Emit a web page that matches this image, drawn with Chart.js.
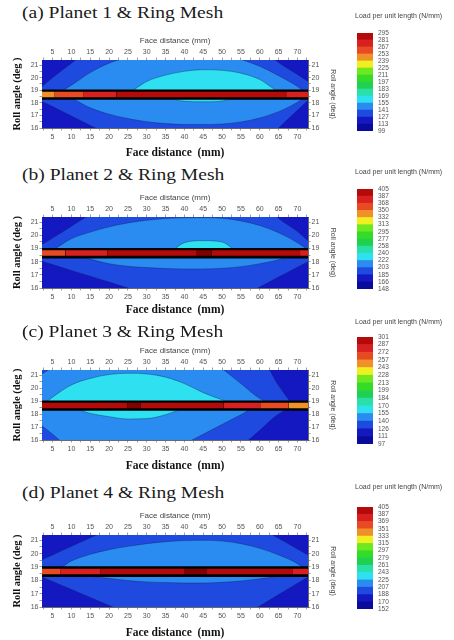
<!DOCTYPE html>
<html>
<head>
<meta charset="utf-8">
<script src="https://cdn.jsdelivr.net/npm/chart.js@4.4.0/dist/chart.umd.min.js"></script>
<style>
    body { margin: 0; width: 454px; height: 640px; background: #fff; position: relative; overflow: hidden; }
    canvas { position: absolute; }
    .panel-title {
        position: absolute; left: 22px; line-height: 20px; white-space: nowrap;
        font-family: "Liberation Serif", "Times New Roman", serif; font-size: 16px; color: #1a1a1a;
        transform: scaleX(1.22); transform-origin: left center;
    }
    .bar-title {
        position: absolute; left: 355px; line-height: 10px; white-space: nowrap;
        font-family: Arial, "Liberation Sans", sans-serif; font-size: 7px; color: #444;
        will-change: transform;
    }
</style>
</head>
<body>
<script>
// Axes
const faceX = [2.2, 5, 10, 15, 20, 25, 30, 35, 40, 45, 50, 55, 60, 65, 70, 72.8];
const faceTicks = [5, 10, 15, 20, 25, 30, 35, 40, 45, 50, 55, 60, 65, 70];
const rollTicks = [16, 17, 18, 19, 20, 21];
const faceRange = [2.2, 72.8];
const rollRange = [16, 21.4];

const panelTitles = ['(a) Planet 1 & Ring Mesh', '(b) Planet 2 & Ring Mesh',
                     '(c) Planet 3 & Ring Mesh', '(d) Planet 4 & Ring Mesh'];

// Colour bar levels (N/mm)
const levelsA = [99, 113, 127, 141, 155, 169, 183, 197, 211, 225, 239, 253, 267, 281, 295];
const levelsB = [148, 166, 185, 203, 222, 240, 258, 277, 295, 313, 332, 350, 368, 387, 405];
const levelsC = [97, 111, 126, 140, 155, 170, 184, 199, 213, 228, 243, 257, 272, 287, 301];
const levelsD = [152, 170, 188, 207, 225, 243, 261, 279, 297, 315, 333, 351, 369, 387, 405];

// Contact line (deg): black band and loaded core
const contactBand = [18.25, 19.05];
const contactCore = [18.45, 18.87];
const contactMid = 18.65;

// Panel (a): background load, contour region loads and their edges (deg at faceX)
const baseA = 120;
const regionLoadA = [134, 148, 162];
const upperA = [
    [19.3, 20.0, 21.15, 22.2, 22.8, 23, 23, 23, 23, 23, 23, 23, 22.4, 21.2, 20.25, 19.7],
    [18.65, 18.65, 19.4, 20.4, 21.15, 21.6, 21.85, 21.95, 22, 22, 21.9, 21.45, 20.9, 20.15, 19.3, 18.65],
    [18.65, 18.65, 18.65, 18.65, 18.65, 18.8, 19.7, 20.2, 20.5, 20.63, 20.58, 20.35, 19.85, 18.9, 18.65, 18.65]
];
const lowerA = [
    [18.1, 17.7, 16.95, 16.2, 15.5, 15, 14.5, 14.5, 14.5, 14.5, 14.5, 14.5, 14.6, 16.0, 17.4, 18.2],
    [18.65, 18.65, 18.35, 17.6, 17.1, 16.75, 16.5, 16.35, 16.28, 16.28, 16.32, 16.48, 16.8, 17.3, 18.05, 18.65],
    [18.65, 18.65, 18.65, 18.65, 18.65, 18.65, 18.65, 18.45, 18.12, 18.08, 18.14, 18.5, 18.65, 18.65, 18.65, 18.65]
];
const stripEdgesA = [2.2, 5.6, 13.1, 22, 67, 72.8];
const stripLoadA = [246, 260, 274, 288, 274];

// Panel (b)
const baseB = 175;
const regionLoadB = [194, 212, 231];
const upperB = [
    [19.3, 19.8, 20.7, 21.6, 22.4, 23, 23, 23, 23, 23, 23, 23, 22.8, 21.3, 20.3, 19.6],
    [18.65, 18.9, 19.75, 20.25, 20.65, 20.95, 21.15, 21.28, 21.34, 21.35, 21.3, 21.1, 20.75, 20.2, 19.45, 18.9],
    [18.65, 18.65, 18.65, 18.65, 18.65, 18.65, 18.65, 18.65, 19.45, 19.6, 19.5, 18.65, 18.65, 18.65, 18.65, 18.65]
];
const lowerB = [
    [18.03, 17.78, 17.33, 16.89, 16.45, 16.0, 15.5, 15, 15, 15, 15, 15.3, 16.07, 16.83, 17.58, 18.0],
    [18.65, 18.65, 18.65, 18.2, 17.85, 17.65, 17.55, 17.48, 17.45, 17.45, 17.5, 17.62, 17.85, 18.15, 18.65, 18.65],
    null
];
const stripEdgesB = [2.2, 8.4, 19.5, 43.3, 47.2, 70.7, 72.8];
const stripLoadB = [358, 378, 396, 410, 396, 378];

// Panel (c)
const baseC = 118;
const regionLoadC = [133, 147, 162];
const upperC = [
    [23, 23, 23, 23, 23, 23, 23, 23, 23, 23, 23, 23, 22.6, 20.2, 18.65, 18.65],
    [21.1, 21.6, 22.4, 22.8, 23, 23, 23, 23, 23, 22.5, 21.5, 20.35, 19.2, 18.65, 18.65, 18.65],
    [18.65, 19.3, 20.25, 20.75, 21.05, 21.15, 21.1, 20.85, 20.35, 19.65, 19.1, 18.65, 18.65, 18.65, 18.65, 18.65]
];
const lowerC = [
    [14.5, 14.5, 14.5, 14.5, 14.5, 14.5, 14.5, 14.5, 14.5, 14.5, 14.5, 15.5, 16.75, 18.0, 18.65, 18.65],
    [17.1, 16.45, 15.3, 15, 15, 15, 15, 15, 15.7, 16.45, 17.2, 17.95, 18.65, 18.65, 18.65, 18.65],
    [18.65, 18.65, 18.5, 18.05, 17.8, 17.62, 17.65, 17.95, 18.45, 18.65, 18.65, 18.65, 18.65, 18.65, 18.65, 18.65]
];
const stripEdgesC = [2.2, 24.8, 28.3, 50.4, 60.1, 67.6, 72.8];
const stripLoadC = [292, 305, 292, 279, 264, 250];

// Panel (d)
const baseD = 179;
const regionLoadD = [197, 216];
const upperD = [
    [19.55, 19.9, 20.55, 21.2, 21.8, 22.4, 23, 23, 23, 23, 23, 22.6, 21.95, 21.15, 20.35, 19.9],
    [18.65, 18.65, 19.45, 19.95, 20.3, 20.55, 20.75, 20.9, 20.98, 21.0, 20.95, 20.75, 20.4, 19.9, 19.25, 18.65]
];
const lowerD = [
    [18.25, 17.92, 17.32, 16.72, 16.12, 15.5, 15, 15, 15, 15, 15, 15.3, 16.08, 16.93, 17.78, 18.25],
    [18.65, 18.65, 18.65, 18.3, 18.15, 17.98, 17.88, 17.83, 17.8, 17.8, 17.85, 17.95, 18.12, 18.3, 18.65, 18.65]
];
const stripEdgesD = [2.2, 7, 17.8, 40.1, 46, 68.8, 72.8];
const stripLoadD = [360, 378, 396, 410, 396, 378];

// Colour map, bottom band to top band
const colormap = ['#0a0a9c', '#1418c0', '#1e4ae0', '#2a8cf0', '#2ee0f0', '#28e0a8', '#20d050',
                  '#34dc28', '#70e820', '#f0f020', '#f09028', '#e84a24', '#d82020', '#b40a0a'];
const overColor = '#820000';
const contourLine = 'rgba(15, 25, 70, 0.5)';

// Page layout (px)
const plotTop = [60, 217, 370, 535];
const plotHeight = [68, 71, 70, 72];
const titleY = [13, 175, 332, 493];
const barTop = [29, 185, 333, 503];
const barHeight = [106, 108, 115, 110];
const barTitleY = [16, 172, 322, 487];
const xTitleGap = [25, 22, 26, 26];

const panels = [
    { levels: levelsA, base: baseA, loads: regionLoadA, upper: upperA, lower: lowerA, edges: stripEdgesA, strip: stripLoadA },
    { levels: levelsB, base: baseB, loads: regionLoadB, upper: upperB, lower: lowerB, edges: stripEdgesB, strip: stripLoadB },
    { levels: levelsC, base: baseC, loads: regionLoadC, upper: upperC, lower: lowerC, edges: stripEdgesC, strip: stripLoadC },
    { levels: levelsD, base: baseD, loads: regionLoadD, upper: upperD, lower: lowerD, edges: stripEdgesD, strip: stripLoadD }
];

const sans = 'Arial, "Liberation Sans", sans-serif';
const serif = '"Liberation Serif", "Times New Roman", serif';

function loadColor(levels, v) {
    if (v >= levels[levels.length - 1]) return overColor;
    let band = 0;
    levels.forEach((l, i) => { if (v >= l) band = i; });
    return colormap[Math.min(band, colormap.length - 1)];
}

function addCanvas(left, top, w, h) {
    const c = document.createElement('canvas');
    c.width = w;
    c.height = h;
    c.style.cssText = `left:${left}px;top:${top}px;width:${w}px;height:${h}px`;
    document.body.appendChild(c);
    return c;
}

function addText(cls, text, centerY) {
    const d = document.createElement('div');
    d.className = cls;
    d.textContent = text;
    d.style.top = (centerY - (cls === 'panel-title' ? 10 : 5)) + 'px';
    document.body.appendChild(d);
}

// major ticks plus an unlabelled tick half way between them
function tickList(majors, half, range) {
    const out = [];
    majors.forEach((v, i) => {
        if (i === 0 && v - half >= range[0]) out.push(v - half);
        if (i > 0) out.push(v - half);
        out.push(v);
    });
    const last = majors[majors.length - 1] + half;
    if (last <= range[1]) out.push(last);
    return out;
}

function axis(position, range, majors, half, size, title) {
    const vertical = position === 'left' || position === 'right';
    return {
        type: 'linear',
        position,
        min: range[0],
        max: range[1],
        afterBuildTicks: s => { s.ticks = tickList(majors, half, range).map(v => ({ value: v })); },
        afterFit: s => { if (vertical) s.width = size; else s.height = size; },
        ticks: {
            autoSkip: false, maxRotation: 0, padding: position === 'bottom' ? 2.5 : 1,
            font: { family: sans, size: 7 }, color: '#555',
            callback: v => majors.includes(v) ? String(v) : ''
        },
        grid: { drawOnChartArea: false, tickLength: 2.5, color: '#777', lineWidth: 0.7 },
        border: { color: '#444', width: 0.8 },
        title
    };
}

function line(points, color, fill, border) {
    return {
        data: points,
        backgroundColor: color,
        borderColor: border ? contourLine : 'rgba(0,0,0,0)',
        borderWidth: border ? 0.7 : 0,
        fill,
        pointRadius: 0,
        cubicInterpolationMode: 'monotone'
    };
}

const edge = ys => faceX.map((x, i) => ({ x, y: ys[i] }));
const flat = (x0, x1, y) => [{ x: x0, y }, { x: x1, y }];

panels.forEach((p, k) => {
    // datasets in painting order, bottom first
    const sets = [];
    sets.push(line(flat(faceRange[0], faceRange[1], rollRange[1]), loadColor(p.levels, p.base), 'start', false));
    p.loads.forEach((load, r) => {
        const col = loadColor(p.levels, load);
        sets.push(line(edge(p.upper[r]), col, { value: contactMid }, true));
        if (p.lower[r]) sets.push(line(edge(p.lower[r]), col, { value: contactMid }, true));
    });
    sets.push(line(flat(faceRange[0], faceRange[1], contactBand[1]), '#000', { value: contactBand[0] }, false));
    p.strip.forEach((load, i) => {
        sets.push(line(flat(p.edges[i], p.edges[i + 1], contactCore[1]), loadColor(p.levels, load),
                       { value: contactCore[0] }, false));
    });
    sets.forEach((d, i) => { d.order = sets.length - i; });

    const top = plotTop[k] - 30;
    const h = plotHeight[k] + 67;
    const boldTitle = {
        display: true, text: 'Face distance  (mm)', color: '#111',
        font: { family: serif, size: 11.5, weight: 'bold' },
        padding: { top: 0, bottom: 37 - xTitleGap[k] - 6.9 }
    };
    new Chart(addCanvas(0, top, 345, h), {
        type: 'line',
        data: { datasets: sets },
        options: {
            responsive: false,
            animation: false,
            devicePixelRatio: 1,
            layout: { padding: 0 },
            plugins: { legend: { display: false }, tooltip: { enabled: false } },
            scales: {
                x: axis('bottom', faceRange, faceTicks, 2.5, 37, boldTitle),
                x2: axis('top', faceRange, faceTicks, 2.5, 30, {
                    display: true, text: 'Face distance (mm)', color: '#444',
                    font: { family: sans, size: 8 }, padding: { top: 6.2, bottom: 0 }
                }),
                y: axis('left', rollRange, rollTicks, 0.5, 42, {
                    display: true, text: 'Roll angle (deg )', color: '#111',
                    font: { family: serif, size: 10.5, weight: 'bold' }, padding: { top: 10.7, bottom: 0 }
                }),
                y2: axis('right', rollRange, rollTicks, 0.5, 37, {
                    display: true, text: 'Roll angle (deg)', color: '#444',
                    font: { family: sans, size: 7 }, padding: { top: 7.8, bottom: 0 }
                })
            }
        }
    });

    // colour bar
    new Chart(addCanvas(357, barTop[k] - 5, 60, barHeight[k] + 10), {
        type: 'bar',
        data: {
            labels: [''],
            datasets: colormap.map(c => ({
                data: [1], backgroundColor: c, borderWidth: 0, barPercentage: 1, categoryPercentage: 1
            }))
        },
        options: {
            responsive: false,
            animation: false,
            devicePixelRatio: 1,
            layout: { padding: { top: 5, bottom: 5 } },
            plugins: { legend: { display: false }, tooltip: { enabled: false } },
            scales: {
                x: { display: false, stacked: true },
                y: {
                    stacked: true, position: 'right', min: 0, max: colormap.length,
                    afterBuildTicks: s => { s.ticks = p.levels.map((v, i) => ({ value: i })); },
                    afterFit: s => { s.width = 44; },
                    ticks: {
                        autoSkip: false, padding: 5, color: '#555',
                        font: { family: sans, size: 6.5 },
                        callback: v => String(p.levels[v])
                    },
                    grid: { display: false, drawTicks: false },
                    border: { display: false }
                }
            }
        }
    });

    addText('panel-title', panelTitles[k], titleY[k]);
    addText('bar-title', 'Load per unit length (N/mm)', barTitleY[k]);
});
</script>
</body>
</html>
